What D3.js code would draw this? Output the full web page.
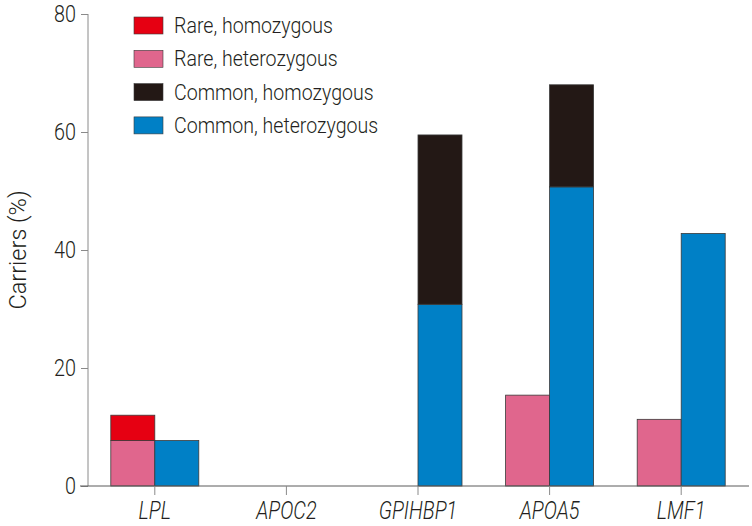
<!DOCTYPE html>
<html><head><meta charset="utf-8">
<script src="https://cdn.jsdelivr.net/npm/d3@7"></script>
<style>
body{margin:0;background:#fff;}
text{font-family:"Roboto",sans-serif;font-weight:300;fill:#231f20;}
</style></head>
<body>
<svg id="chart" width="752" height="526"></svg>
<script>
const genes = ["LPL","APOC2","GPIHBP1","APOA5","LMF1"];
const rareHet = [7.7, 0, 0, 15.4, 11.3];
const rareHom = [4.3, 0, 0, 0, 0];
const commonHet = [7.7, 0, 30.8, 50.7, 42.8];
const commonHom = [0, 0, 28.7, 17.3, 0];
const yTicks = [0,20,40,60,80];
const legendLabels = ["Rare, homozygous","Rare, heterozygous","Common, homozygous","Common, heterozygous"];
const colors = {rareHom:"#e60012", rareHet:"#e0668d", commonHom:"#231815", commonHet:"#0080c6"};

const svg = d3.select("#chart");
const x = d3.scaleBand().domain(genes).range([89,747]).padding(0);
const y = d3.scaleLinear().domain([0,80]).range([486,14]);
const barW = 44;

// axes
const yAxis = svg.append("g").attr("transform","translate(88,0)")
  .call(d3.axisLeft(y).tickValues(yTicks).tickSize(7).tickPadding(5));
yAxis.selectAll("text").style("font-size","23px").attr("fill","#231f20")
  .attr("x",-14).attr("transform","scale(0.86,1)");
yAxis.selectAll("line,path").attr("stroke","#8a8a8a");
yAxis.select("path").attr("d","M0,14V486");

// bars
const segs = [];
genes.forEach((g,i)=>{
  const c = x(g)+x.bandwidth()/2;
  segs.push({x:c-barW, y0:0, y1:rareHet[i], col:colors.rareHet});
  segs.push({x:c-barW, y0:rareHet[i], y1:rareHet[i]+rareHom[i], col:colors.rareHom});
  segs.push({x:c, y0:0, y1:commonHet[i], col:colors.commonHet});
  segs.push({x:c, y0:commonHet[i], y1:commonHet[i]+commonHom[i], col:colors.commonHom});
});
svg.append("g").selectAll("rect").data(segs.filter(d=>d.y1>d.y0)).join("rect")
  .attr("x",d=>d.x).attr("width",barW)
  .attr("y",d=>y(d.y1)).attr("height",d=>y(d.y0)-y(d.y1))
  .attr("fill",d=>d.col).attr("stroke","#3a3a3a").attr("stroke-width",0.8);

const xAxis = svg.append("g").attr("transform","translate(0,486)")
  .call(d3.axisBottom(x).tickSize(9).tickPadding(6));
xAxis.select("path").attr("d","M80,0H749").attr("stroke","#5a5a5a");
xAxis.selectAll("line").attr("stroke","#8a8a8a");
xAxis.selectAll("text").style("font-size","25px").style("font-style","italic")
  .attr("fill","#231f20").attr("transform","scale(0.80,1)");

// y label
svg.append("text").attr("transform","translate(26,250) rotate(-90)")
  .attr("text-anchor","middle").style("font-size","23.5px").text("Carriers (%)");

// legend
const legCols = [colors.rareHom, colors.rareHet, colors.commonHom, colors.commonHet];
const leg = svg.append("g");
legendLabels.forEach((l,i)=>{
  const yy = 17 + i*33.3;
  leg.append("rect").attr("x",134).attr("y",yy).attr("width",29).attr("height",17)
    .attr("fill",legCols[i]).attr("stroke","#3a3a3a").attr("stroke-width",0.6);
  leg.append("text").attr("transform",`translate(174,${yy+16}) scale(0.91,1)`)
    .style("font-size","21.5px").text(l);
});
</script>
</body></html>
